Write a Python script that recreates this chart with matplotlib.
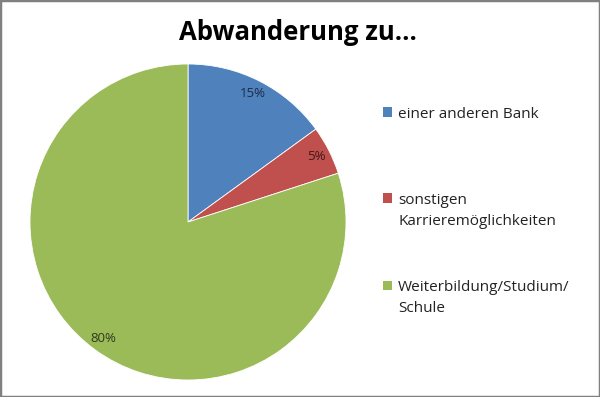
import matplotlib
matplotlib.use("Agg")
import matplotlib.pyplot as plt
from matplotlib.patches import Rectangle

title = "Abwanderung zu..."
categories = ["einer anderen Bank", "sonstigen\nKarrieremöglichkeiten", "Weiterbildung/Studium/\nSchule"]
values = [15, 5, 80]
colors = ["#4F81BD", "#C0504D", "#9BBB59"]
label_colors = ["#1c2c46", "#3f1a19", "#2f3a1a"]

W, H = 600, 397
fig = plt.figure(figsize=(W / 100, H / 100), dpi=100)
fig.patch.set_facecolor("white")

cx, cy, r = 188, 397 - 222, 158
ax = fig.add_axes([(cx - r) / W, (cy - r) / H, 2 * r / W, 2 * r / H])
wedges, texts, autotexts = ax.pie(
    values, colors=colors, startangle=90, counterclock=False,
    autopct=lambda p: f"{p:.0f}%", pctdistance=0.91,
    wedgeprops=dict(edgecolor="white", linewidth=0.6),
    textprops=dict(fontsize=9.5, family="Open Sans"),
)
for t, c in zip(autotexts, label_colors):
    t.set_color(c)
ax.set_xlim(-1, 1)
ax.set_ylim(-1, 1)
ax.set_aspect("equal")
ax.axis("off")

fig.text(298 / W, 1 - 32 / H, title, ha="center", va="center",
         fontsize=18.5, fontweight="bold", family="Open Sans", color="black")

# legend
leg_y = [112, 198, 285]
for cat, col, y in zip(categories, colors, leg_y):
    fig.patches.append(Rectangle((383 / W, 1 - (y + 4.5) / H), 9 / W, 9 / H,
                                 transform=fig.transFigure, facecolor=col, edgecolor="none"))
    fig.text(398 / W, 1 - (y - 5) / H, cat, ha="left", va="top", fontsize=11,
             family="Open Sans", color="#222222", linespacing=1.55)

# outer frame
fig.patches.append(Rectangle((0, 0), 1, 1, transform=fig.transFigure, fill=False,
                             edgecolor="#808080", linewidth=2.5))

fig.savefig("out.png", dpi=100)
